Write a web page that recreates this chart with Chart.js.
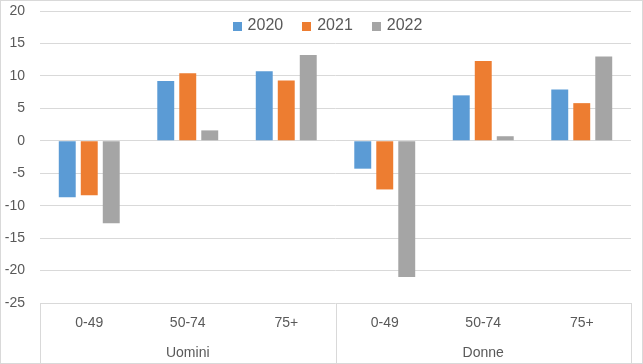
<!DOCTYPE html>
<html>
<head>
<meta charset="utf-8">
<script src="https://cdn.jsdelivr.net/npm/chart.js@4/dist/chart.umd.min.js"></script>
<style>
  html, body { margin: 0; padding: 0; background: #fff; }
  #wrap { width: 643px; height: 364px; position: relative; }
</style>
</head>
<body>
<div id="wrap"><canvas id="c" width="643" height="364"></canvas></div>
<script>
const categories = ['0-49', '50-74', '75+', '0-49', '50-74', '75+'];
const groups = ['Uomini', 'Donne'];
const seriesNames = ['2020', '2021', '2022'];
const values2020 = [-8.7, 9.2, 10.7, -4.3, 7.0, 7.9];
const values2021 = [-8.4, 10.4, 9.3, -7.5, 12.3, 5.8];
const values2022 = [-12.7, 1.6, 13.2, -21.0, 0.7, 13.0];
const yTicks = [-25, -20, -15, -10, -5, 0, 5, 10, 15, 20];

const colors = ['#5b9bd5', '#ed7d31', '#a5a5a5'];
const textColor = '#595959';
const gridColor = '#d9d9d9';
const fontFamily = '"Liberation Sans", Arial, sans-serif';

const boxPlugin = {
  id: 'boxPlugin',
  beforeDraw(chart) {
    const ctx = chart.ctx;
    ctx.save();
    ctx.fillStyle = '#fff';
    ctx.fillRect(0, 0, chart.width, chart.height);
    ctx.strokeStyle = gridColor;
    ctx.lineWidth = 1;
    ctx.strokeRect(0.5, 0.5, chart.width - 1, chart.height - 1);
    ctx.restore();
  },
  afterDraw(chart) {
    const ctx = chart.ctx;
    const x = chart.scales.x;
    const area = chart.chartArea;
    const n = categories.length;
    const perGroup = n / groups.length;
    const half = (x.getPixelForValue(1) - x.getPixelForValue(0)) / 2;
    ctx.save();
    ctx.strokeStyle = gridColor;
    ctx.lineWidth = 1;
    const xs = [];
    for (let g = 0; g <= groups.length; g++) {
      const idx = g * perGroup;
      let px;
      if (idx < n) px = x.getPixelForValue(idx) - half;
      else px = x.getPixelForValue(n - 1) + half;
      xs.push(Math.round(px) + 0.5);
    }
    ctx.beginPath();
    xs.forEach(px => {
      ctx.moveTo(px, area.bottom);
      ctx.lineTo(px, chart.height);
    });
    ctx.stroke();

    // legend
    ctx.font = '16px ' + fontFamily;
    ctx.textBaseline = 'middle';
    ctx.textAlign = 'left';
    const box = 9, gap = 6, spacing = 19;
    const ds = chart.data.datasets;
    const widths = ds.map(d => ctx.measureText(d.label).width);
    let total = 0;
    widths.forEach((w, i) => { total += box + gap + w + (i < ds.length - 1 ? spacing : 0); });
    let lx = 327.5 - total / 2;
    const ly = 26;
    ds.forEach((d, i) => {
      ctx.fillStyle = d.backgroundColor;
      ctx.fillRect(Math.round(lx), ly - 4, box, box);
      ctx.fillStyle = textColor;
      ctx.fillText(d.label, lx + box + gap, ly);
      lx += box + gap + widths[i] + spacing;
    });
    ctx.restore();
  }
};

new Chart(document.getElementById('c'), {
  type: 'bar',
  data: {
    labels: categories,
    datasets: [
      { label: seriesNames[0], data: values2020, backgroundColor: colors[0] },
      { label: seriesNames[1], data: values2021, backgroundColor: colors[1] },
      { label: seriesNames[2], data: values2022, backgroundColor: colors[2] }
    ]
  },
  options: {
    responsive: false,
    animation: false,
    devicePixelRatio: 1,
    categoryPercentage: 0.67,
    barPercentage: 0.77,
    layout: { padding: { top: 11, right: 12, bottom: 1, left: 0 } },
    plugins: {
      legend: { display: false },
      tooltip: { enabled: false }
    },
    scales: {
      y: {
        min: -25,
        max: 20,
        afterBuildTicks(scale) { scale.ticks = yTicks.map(v => ({ value: v })); },
        afterFit(scale) { scale.width = 40; scale.paddingTop = 0; scale.paddingBottom = 0; },
        grid: { color: gridColor, drawTicks: false },
        border: { display: false },
        ticks: {
          padding: 15,
          color: textColor,
          font: { family: fontFamily, size: 14 }
        }
      },
      x: {
        weight: 1,
        afterFit(scale) { scale.height = 30; },
        grid: { display: false, drawTicks: false },
        border: { display: false },
        ticks: {
          padding: 12,
          maxRotation: 0,
          autoSkip: false,
          color: textColor,
          font: { family: fontFamily, size: 14 }
        }
      },
      groups: {
        type: 'category',
        position: 'bottom',
        weight: 2,
        labels: groups,
        offset: true,
        afterFit(scale) { scale.height = 30; },
        grid: { display: false, drawTicks: false },
        border: { display: false },
        ticks: {
          padding: 12,
          maxRotation: 0,
          color: textColor,
          font: { family: fontFamily, size: 14 }
        }
      }
    }
  },
  plugins: [boxPlugin]
});
</script>
</body>
</html>
